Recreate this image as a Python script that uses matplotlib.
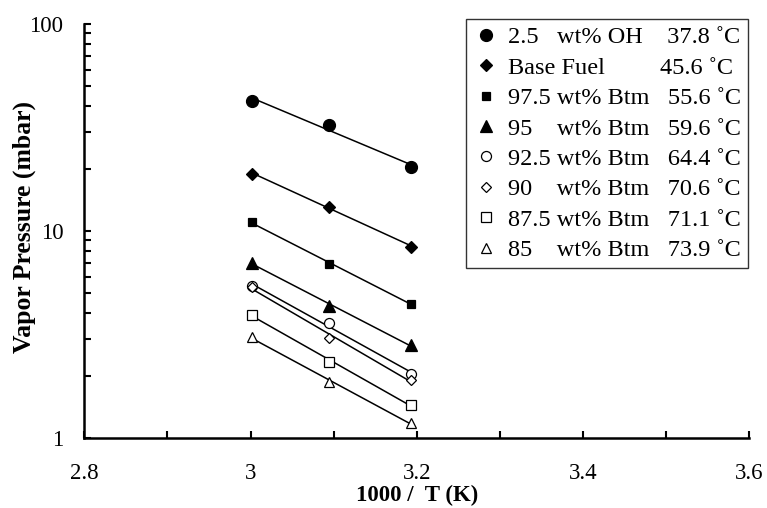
import numpy as np
import matplotlib
matplotlib.use('Agg')
import matplotlib.pyplot as plt
from matplotlib.ticker import MultipleLocator, LogLocator, NullFormatter, FixedLocator

plt.rcParams['font.family'] = ['Liberation Serif', 'DejaVu Serif']

# 1000/T(K) for 60, 50, 40 C
invT = [3.0017, 3.0945, 3.1934]

labels = ['2.5   wt% OH    37.8 \u02daC',
          'Base Fuel         45.6 \u02daC',
          '97.5 wt% Btm   55.6 \u02daC',
          '95    wt% Btm   59.6 \u02daC',
          '92.5 wt% Btm   64.4 \u02daC',
          '90    wt% Btm   70.6 \u02daC',
          '87.5 wt% Btm   71.1 \u02daC',
          '85    wt% Btm   73.9 \u02daC']

oh25 = [42.6, 32.5, 20.3]
baseFuel = [18.9, 13.1, 8.4]
btm975 = [11.0, 6.95, 4.45]
btm95 = [7.03, 4.34, 2.81]
btm925 = [5.44, 3.58, 2.04]
btm90 = [5.38, 3.03, 1.91]
btm875 = [3.93, 2.34, 1.44]
btm85 = [3.07, 1.86, 1.18]

seriesList = [oh25, baseFuel, btm975, btm95, btm925, btm90, btm875, btm85]
markers = ['o', 'D', 's', '^', 'o', 'D', 's', '^']
fills = ['black', 'black', 'black', 'black', 'white', 'white', 'white', 'white']
sizes = [8.6, 6.2, 5.8, 8.6, 7.2, 5.2, 7.2, 7.6]


def main():
    fig = plt.figure(figsize=(7.67, 5.08), dpi=100)
    ax = fig.add_axes([0.110, 0.1378, 0.8665, 0.815])
    for vals, m, fc, ms, lab in zip(seriesList, markers, fills, sizes, labels):
        x = np.array(invT)
        fit = np.polyfit(x, np.log10(vals), 1)
        ax.plot(x, 10 ** np.polyval(fit, x), color='black', lw=1.1, zorder=2)
        ax.plot(x, vals, linestyle='none', marker=m, markersize=ms, markerfacecolor=fc,
                markeredgecolor='black', markeredgewidth=0.9, label=lab, zorder=3)

    ax.set_yscale('log')
    ax.set_xlim(2.8, 3.6)
    ax.set_ylim(1, 100)
    ax.xaxis.set_major_locator(MultipleLocator(0.2))
    ax.xaxis.set_minor_locator(MultipleLocator(0.1))
    ax.xaxis.set_major_formatter(plt.FuncFormatter(lambda v, p: '%g' % round(v, 1)))
    ax.yaxis.set_major_locator(FixedLocator([1, 10, 100]))
    ax.yaxis.set_major_formatter(plt.FuncFormatter(lambda v, p: '%g' % v))
    ax.yaxis.set_minor_locator(LogLocator(base=10, subs=np.arange(2, 10), numticks=20))
    ax.yaxis.set_minor_formatter(NullFormatter())
    ax.tick_params(axis='both', which='both', direction='in', width=1.5, length=5, labelsize=16.5)
    ax.tick_params(axis='x', which='major', pad=18)
    ax.tick_params(axis='y', which='major', pad=15)
    ax.spines['top'].set_visible(False)
    ax.spines['right'].set_visible(False)
    ax.spines['left'].set_linewidth(1.8)
    ax.spines['bottom'].set_linewidth(1.8)

    ax.set_xlabel('1000 /  T (K)', fontsize=16.5, fontweight='bold')
    ax.set_ylabel('Vapor Pressure (mbar)', fontsize=18.5, fontweight='bold')
    ax.xaxis.set_label_coords(0.5, -0.113)
    ax.yaxis.set_label_coords(-0.091, 0.51)
    ax.yaxis.label.set_va('center')

    leg = ax.legend(loc='upper right', bbox_to_anchor=(0.9752, 0.9626), bbox_transform=fig.transFigure,
                    fontsize=17.5, frameon=True, fancybox=False, borderpad=0.3, labelspacing=0.345,
                    handletextpad=0.4, handlelength=1.0, borderaxespad=0, markerscale=1.0)
    leg.get_frame().set_edgecolor('black')
    leg.get_frame().set_linewidth(1.0)

    fig.savefig('out.png', dpi=100)


if __name__ == "__main__":
    main()
